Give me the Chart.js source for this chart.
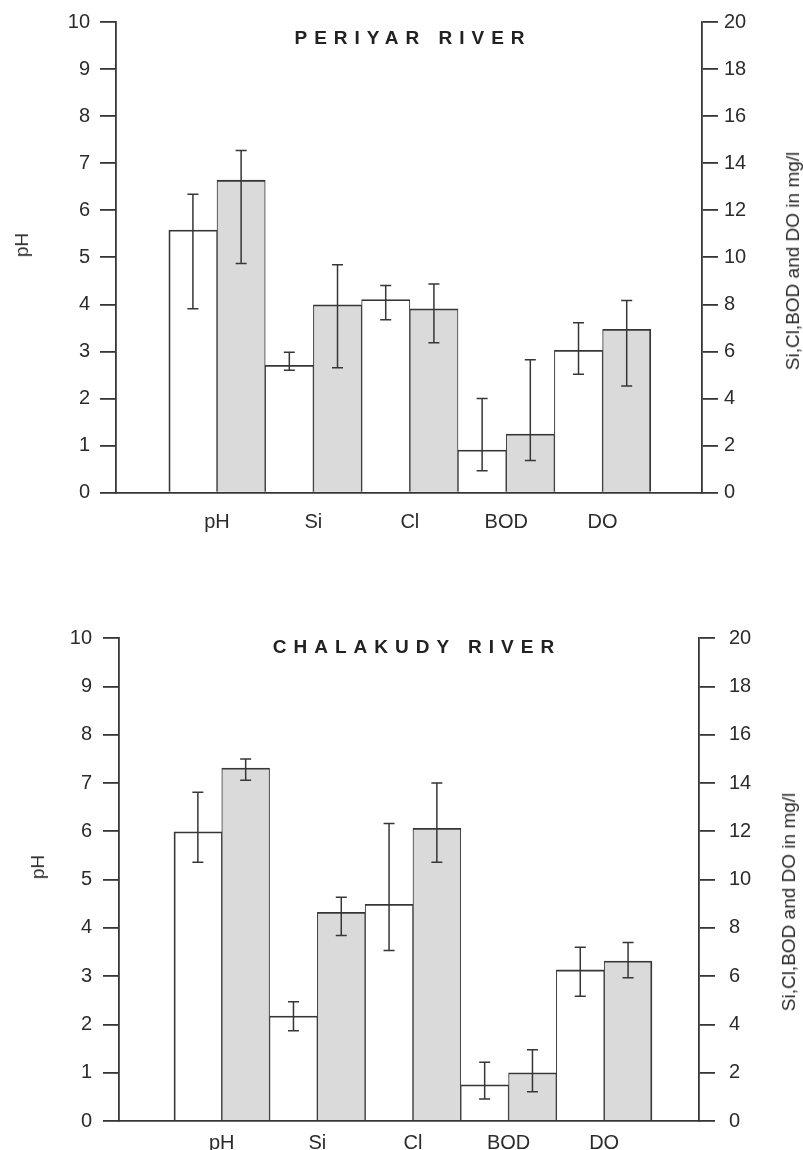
<!DOCTYPE html>
<html>
<head>
<meta charset="utf-8">
<script src="https://cdn.jsdelivr.net/npm/chart.js@4/dist/chart.umd.min.js"></script>
<style>
  html, body { margin: 0; padding: 0; background: #fff; }
  body { width: 803px; height: 1150px; position: relative; overflow: hidden;
         font-family: "Liberation Sans", Arial, Helvetica, sans-serif; }
  .panel { position: absolute; left: 0; width: 803px; height: 575px; }
  .panel canvas { position: absolute; left: 0; top: 0; }
  .title { position: absolute; font-weight: bold; font-size: 19px; letter-spacing: 7px;
           color: #222; white-space: nowrap; transform: translate(-50%, -50%); }
  .ytitle { position: absolute; font-size: 19px; color: #2b2b2b; white-space: nowrap;
            transform: translate(-50%, -50%) rotate(-90deg); }
</style>
</head>
<body>
<div class="panel" style="top:0">
  <canvas id="c1" width="803" height="575"></canvas>
  <div class="title" id="t1" style="left:413px; top:38px"></div>
  <div class="ytitle" id="yl1" style="left:22px; top:245px"></div>
  <div class="ytitle" id="yr1" style="left:793px; top:261px"></div>
</div>
<div class="panel" style="top:575px">
  <canvas id="c2" width="803" height="575"></canvas>
  <div class="title" id="t2" style="left:417px; top:72px"></div>
  <div class="ytitle" id="yl2" style="left:38px; top:292px"></div>
  <div class="ytitle" id="yr2" style="left:789px; top:327px"></div>
</div>
<script>
// ---------------- DATA ----------------
const categories = ['pH', 'Si', 'Cl', 'BOD', 'DO'];
const leftTickValues = [0, 1, 2, 3, 4, 5, 6, 7, 8, 9, 10];
const rightTickValues = [0, 2, 4, 6, 8, 10, 12, 14, 16, 18, 20];
const titles = ['PERIYAR RIVER', 'CHALAKUDY RIVER'];
const leftAxisTitle = 'pH';
const rightAxisTitle = 'Si,Cl,BOD and DO in mg/l';

// Periyar river (pH on left axis, others in mg/l on right axis)
const periyarWhite     = [5.58, 5.41, 8.21, 1.81, 6.05];
const periyarWhiteLow  = [3.91, 5.20, 7.35, 0.93, 5.03];
const periyarWhiteHigh = [6.34, 5.97, 8.80, 4.00, 7.22];
const periyarGrey      = [6.64, 7.98, 7.81, 2.49, 6.94];
const periyarGreyLow   = [4.87, 5.31, 6.37, 1.37, 4.53];
const periyarGreyHigh  = [7.27, 9.69, 8.87, 5.65, 8.17];

// Chalakudy river
const chalakudyWhite     = [5.99, 4.35, 8.98, 1.50, 6.26];
const chalakudyWhiteLow  = [5.36, 3.74, 7.06, 0.91, 5.17];
const chalakudyWhiteHigh = [6.81, 4.94, 12.33, 2.43, 7.20];
const chalakudyGrey      = [7.31, 8.65, 12.13, 2.00, 6.63];
const chalakudyGreyLow   = [7.06, 7.69, 10.72, 1.21, 5.94];
const chalakudyGreyHigh  = [7.50, 9.27, 14.00, 2.95, 7.40];

// ---------------- STYLE ----------------
const INK = '#363636';
const GREY = '#dadada';
const TXT = '#2b2b2b';
Chart.defaults.font.family = '"Liberation Sans", Arial, Helvetica, sans-serif';
Chart.defaults.color = TXT;

document.getElementById('t1').textContent = titles[0];
document.getElementById('t2').textContent = titles[1];
['yl1', 'yl2'].forEach(id => document.getElementById(id).textContent = leftAxisTitle);
['yr1', 'yr2'].forEach(id => document.getElementById(id).textContent = rightAxisTitle);

const errorBars = {
  id: 'errorBars',
  afterDatasetsDraw(chart) {
    const ctx = chart.ctx;
    ctx.save();
    ctx.strokeStyle = INK;
    ctx.lineWidth = 1.5;
    chart.data.datasets.forEach((ds, di) => {
      const meta = chart.getDatasetMeta(di);
      const ys = chart.scales[ds.yAxisID];
      meta.data.forEach((bar, j) => {
        if (ds.data[j].y == null) return;
        const x = bar.x;
        const yH = ys.getPixelForValue(ds.errHigh[j]);
        const yL = ys.getPixelForValue(ds.errLow[j]);
        ctx.beginPath();
        ctx.moveTo(x, yH); ctx.lineTo(x, yL);
        ctx.moveTo(x - 5.5, yH); ctx.lineTo(x + 5.5, yH);
        ctx.moveTo(x - 5.5, yL); ctx.lineTo(x + 5.5, yL);
        ctx.stroke();
      });
    });
    ctx.restore();
  }
};

const isPH = i => i === 0;
const notPH = i => i !== 0;
function pick(arr, keep) { return arr.map((v, i) => ({ x: i + 1, y: keep(i) ? v : null })); }

function barDataset(values, lo, hi, keep, axis, fill, isWhite) {
  const last = categories.length - 1;
  return {
    data: pick(values, keep),
    errLow: lo, errHigh: hi,
    yAxisID: axis,
    backgroundColor: fill,
    borderColor: INK,
    borderWidth: c => ({
      top: 1.8,
      left: (isWhite && c.dataIndex === 0) ? 1.8 : 1,
      right: (!isWhite && c.dataIndex === last) ? 1.8 : 1,
      bottom: 0
    }),
    borderSkipped: 'start',
    categoryPercentage: 1,
    barPercentage: 1,
    skipNull: true
  };
}

function makeChart(id, w, wl, wh, g, gl, gh, geo) {
  const datasets = [
    barDataset(w, wl, wh, isPH, 'yL', '#ffffff', true),
    barDataset(g, gl, gh, isPH, 'yL', GREY, false),
    barDataset(w, wl, wh, notPH, 'yR', '#ffffff', true),
    barDataset(g, gl, gh, notPH, 'yR', GREY, false)
  ];
  const yCommon = (ticksVals, min, max, tickLen, pad) => ({
    type: 'linear', min, max,
    afterBuildTicks: ax => { ax.ticks = ticksVals.map(v => ({ value: v })); },
    ticks: { font: { size: 20 }, color: TXT, padding: pad },
    grid: { drawOnChartArea: false, drawTicks: true, tickLength: tickLen, color: INK, lineWidth: 1.8 },
    border: { display: true, color: INK, width: 1.8 }
  });
  return new Chart(document.getElementById(id), {
    type: 'bar',
    data: { datasets },
    plugins: [errorBars],
    options: {
      responsive: false,
      animation: false,
      devicePixelRatio: 1,
      layout: { padding: { top: geo.top, left: 0, right: 0, bottom: 0 } },
      plugins: { legend: { display: false }, tooltip: { enabled: false }, title: { display: false } },
      scales: {
        x: {
          type: 'linear', min: geo.xmin, max: geo.xmax, offset: false,
          afterBuildTicks: ax => { ax.ticks = categories.map((c, i) => ({ value: i + 1 })); },
          afterFit: s => { s.height = geo.xh; },
          ticks: { font: { size: 20 }, color: TXT, padding: geo.xpad, maxRotation: 0, autoSkip: false,
                   callback: v => categories[Math.round(v) - 1] },
          grid: { display: false, drawTicks: false, offset: false },
          border: { display: true, color: INK, width: 1.8 }
        },
        yL: Object.assign(yCommon(leftTickValues, 0, 10, geo.tl, geo.lpad), {
          position: 'left', afterFit: s => { s.width = geo.left; }
        }),
        yR: Object.assign(yCommon(rightTickValues, 0, 20, geo.tl, geo.rpad), {
          position: 'right', afterFit: s => { s.width = 803 - geo.right; }
        })
      }
    }
  });
}

makeChart('c1', periyarWhite, periyarWhiteLow, periyarWhiteHigh,
          periyarGrey, periyarGreyLow, periyarGreyHigh,
          { top: 21, left: 116, right: 702, xh: 575 - 492.7, xmin: -0.048, xmax: 6.031,
            xpad: 18, tl: 16, lpad: 10, rpad: 6 });
makeChart('c2', chalakudyWhite, chalakudyWhiteLow, chalakudyWhiteHigh,
          chalakudyGrey, chalakudyGreyLow, chalakudyGreyHigh,
          { top: 63.3, left: 119, right: 699, xh: 29, xmin: -0.075, xmax: 5.992,
            xpad: 10, tl: 16, lpad: 11, rpad: 14 });
</script>
</body>
</html>
